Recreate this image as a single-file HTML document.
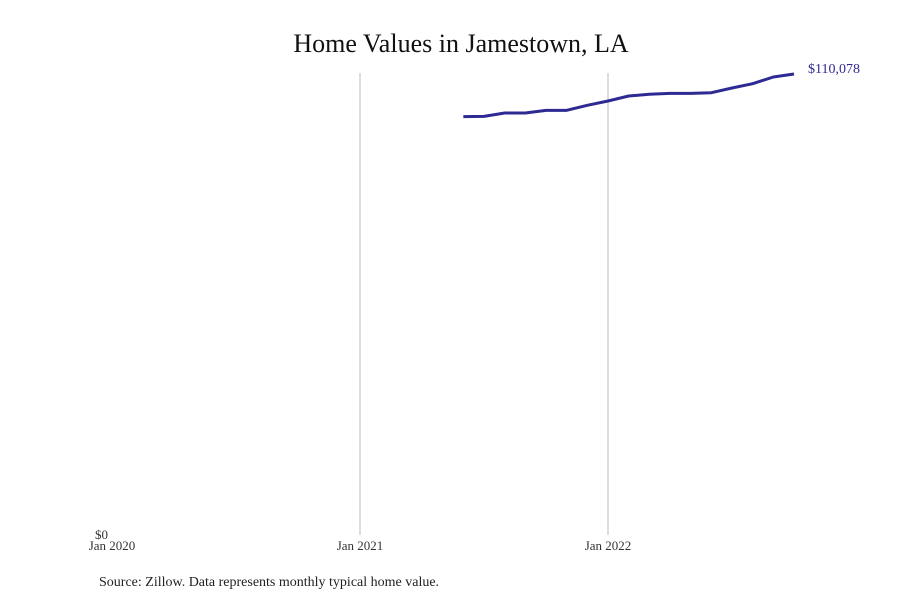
<!DOCTYPE html>
<html><head><meta charset="utf-8"><style>
body{margin:0;background:#fff;}
svg{display:block;font-family:"Liberation Serif",serif;}
</style></head><body>
<svg id="chart" width="900" height="600">
<text x="461" y="52" text-anchor="middle" font-size="26" fill="#111">Home Values in Jamestown, LA</text>
<g id="grid"></g>
<g id="series"></g>
<text x="99" y="586" font-size="14" fill="#222">Source: Zillow. Data represents monthly typical home value.</text>
</svg>
<script>
const months=["2021-06","2021-07","2021-08","2021-09","2021-10","2021-11","2021-12","2022-01","2022-02","2022-03","2022-04","2022-05","2022-06","2022-07","2022-08","2022-09","2022-10"];
const values=[99900,99970,100760,100760,101400,101400,102600,103630,104820,105230,105460,105460,105610,106730,107770,109360,110078];
const xTickLabels=["Jan 2020","Jan 2021","Jan 2022"];
const xTickMonths=["2020-01","2021-01","2022-01"];
const yTickLabels=["$0"];
const yTickValues=[0];
const ns="http://www.w3.org/2000/svg";
function mIdx(s){const [y,m]=s.split("-").map(Number);return (y-2020)*12+(m-1);}
function xS(s){return 112+mIdx(s)*(608-112)/24;}
function yS(v){return 535-v*(535-74)/110078;}
const grid=document.getElementById("grid"),ser=document.getElementById("series");
xTickMonths.forEach((m,i)=>{
 const x=xS(m);
 if(i>0){const l=document.createElementNS(ns,"line");
 
 
 l.setAttribute("x1",x);l.setAttribute("x2",x);l.setAttribute("y1",73);l.setAttribute("y2",535);
 l.setAttribute("stroke","#bbb");l.setAttribute("stroke-width","1");grid.appendChild(l);}
 const t=document.createElementNS(ns,"text");
 
 
 t.setAttribute("x",x);t.setAttribute("y",550);t.setAttribute("text-anchor","middle");
 t.setAttribute("font-size","13");t.setAttribute("fill","#333");t.textContent=xTickLabels[i];grid.appendChild(t);
});
yTickValues.forEach((v,i)=>{
 const t=document.createElementNS(ns,"text");
 
 
 t.setAttribute("x",108);t.setAttribute("y",yS(v)+4);t.setAttribute("text-anchor","end");
 t.setAttribute("font-size","13");t.setAttribute("fill","#333");t.textContent=yTickLabels[i];grid.appendChild(t);
});
const p=document.createElementNS(ns,"path");


p.setAttribute("d",months.map((m,i)=>(i?"L":"M")+xS(m)+","+yS(values[i])).join(" "));
p.setAttribute("fill","none");p.setAttribute("stroke","#2e2a94");p.setAttribute("stroke-width","3");
p.setAttribute("stroke-linejoin","round");ser.appendChild(p);
const last=values.length-1;
const lb=document.createElementNS(ns,"text");


lb.setAttribute("x",xS(months[last])+14);lb.setAttribute("y",yS(values[last])-1);
lb.setAttribute("font-size","14");lb.setAttribute("fill","#2e2a94");
lb.textContent="$"+values[last].toLocaleString("en-US");ser.appendChild(lb);
</script>
</body></html>
